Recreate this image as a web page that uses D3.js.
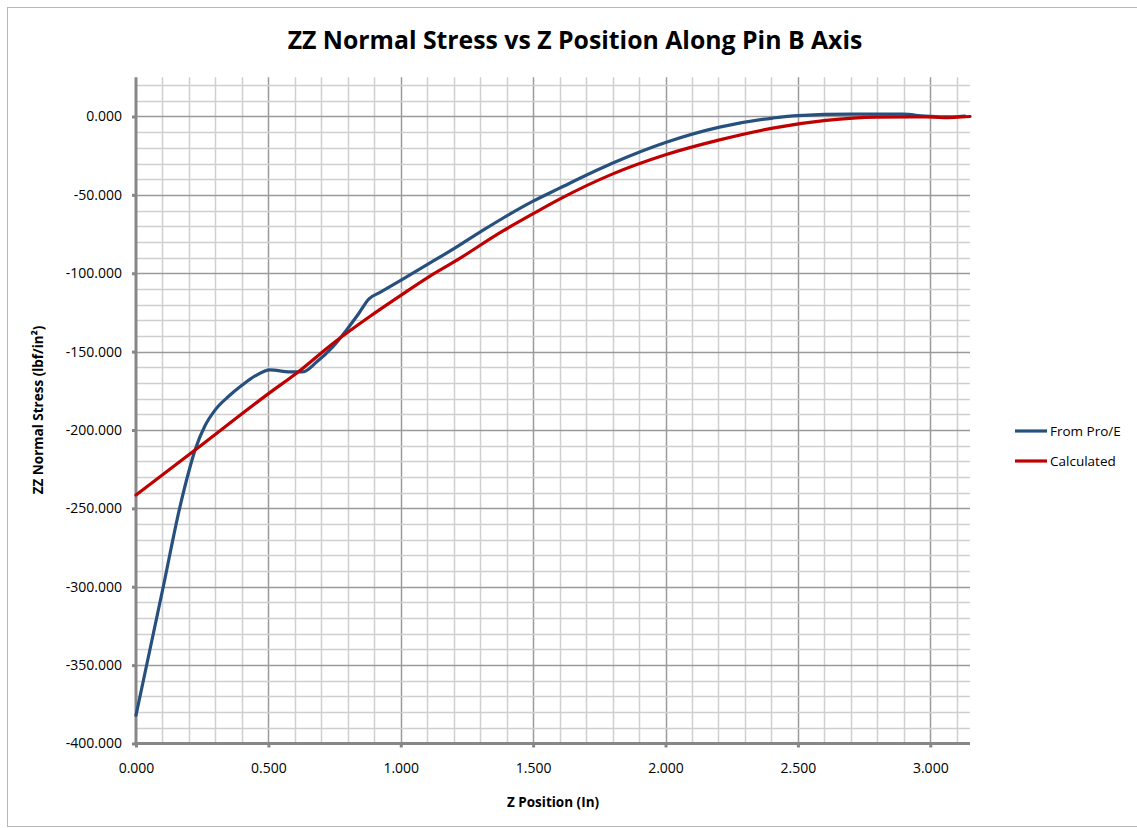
<!DOCTYPE html>
<html>
<head>
<meta charset="utf-8">
<script src="https://cdn.jsdelivr.net/npm/d3@7"></script>
<style>
  html, body { margin: 0; padding: 0; background: #fff; }
  svg { display: block; font-family: "Open Sans", Lato, sans-serif; }
</style>
</head>
<body>
<svg id="chart" width="1137" height="828"></svg>
<script>
// Z position (in) and ZZ normal stress (lbf/in²) for each series
const proEZ = [0, 0.103, 0.166, 0.201, 0.223, 0.26, 0.3, 0.35, 0.4, 0.45, 0.506, 0.581, 0.63, 0.683, 0.743, 0.796, 0.84, 0.88, 0.92, 1.003, 1.109, 1.204, 1.311, 1.5, 1.6, 1.801, 2.0, 2.204, 2.405, 2.5, 2.7, 2.896, 2.98, 3.05, 3.13];
const proEStress = [-382, -300, -249, -225.5, -212.8, -197.5, -187, -178.5, -171.5, -165.5, -161.6, -162.9, -162.9, -156.5, -147, -136, -126, -116.3, -112.4, -104.2, -93.6, -84, -72.5, -54, -45.7, -29.7, -16.6, -6.8, -1.0, 0.6, 1.5, 1.5, 0.2, -0.3, 0.3];
const calcZ = [0, 0.223, 0.503, 0.606, 0.745, 0.883, 1.003, 1.109, 1.204, 1.386, 1.5, 1.6, 1.801, 2.0, 2.204, 2.405, 2.606, 2.795, 2.98, 3.05, 3.15];
const calcStress = [-241.5, -212.8, -176.5, -163.8, -144.6, -127.6, -113.8, -102, -92.5, -73, -62, -52.7, -36.6, -24.4, -14.9, -7.4, -2.5, -0.4, -0.2, -0.8, 0];

const seriesNames = ["From Pro/E", "Calculated"];
const seriesColors = ["#27507f", "#c00000"];

const xTicks = [0, 0.5, 1.0, 1.5, 2.0, 2.5, 3.0];
const yTicks = [0, -50, -100, -150, -200, -250, -300, -350, -400];

const titleText = "ZZ Normal Stress vs Z Position Along Pin B Axis";
const xTitle = "Z Position (In)";
const yTitle = "ZZ Normal Stress (lbf/in²)";

const svg = d3.select("#chart");
const W = 1137, H = 828;
const plot = { left: 136, right: 970, top: 77.3, bottom: 743.5 };

const x = d3.scaleLinear().domain([0, 3.15]).range([plot.left, plot.right]);
const y = d3.scaleLinear().domain([-400, 25]).range([plot.bottom, plot.top]);

const fmt = d3.formatLocale({ decimal: ".", thousands: ",", grouping: [3], currency: ["$", ""], minus: "-" }).format(".3f");

// chart frame
svg.append("rect")
  .attr("x", 7.5).attr("y", 7.5)
  .attr("width", W + 10).attr("height", H - 9)
  .attr("fill", "#fff").attr("stroke", "#b8b8b8").attr("stroke-width", 1);

// gridlines: minor every 0.1 / 10, major every 0.5 / 50
const xMinor = d3.range(1, 32).map(i => i / 10);
const yMinor = d3.range(-39, 3).map(i => i * 10);
const grid = svg.append("g");
grid.selectAll("line.xg").data(xMinor).join("line")
  .attr("x1", d => Math.round(x(d)) + 0.5).attr("x2", d => Math.round(x(d)) + 0.5)
  .attr("y1", plot.top).attr("y2", plot.bottom)
  .attr("stroke", d => (Math.abs(d * 2 - Math.round(d * 2)) < 1e-6) ? "#9a9a9a" : "#cfcfcf")
  .attr("stroke-width", 1.5);
grid.selectAll("line.yg").data(yMinor).join("line")
  .attr("y1", d => Math.round(y(d)) + 0.5).attr("y2", d => Math.round(y(d)) + 0.5)
  .attr("x1", plot.left).attr("x2", plot.right)
  .attr("stroke", d => (d % 50 === 0) ? "#9a9a9a" : "#cfcfcf")
  .attr("stroke-width", 1.5);

// axes
const axisColor = "#878787";
const yAxis = svg.append("g")
  .attr("transform", `translate(${plot.left},0)`)
  .call(d3.axisLeft(y).tickValues(yTicks).tickFormat(fmt).tickSize(4).tickSizeOuter(0).tickPadding(10));
const xAxis = svg.append("g")
  .attr("transform", `translate(0,${plot.bottom})`)
  .call(d3.axisBottom(x).tickValues(xTicks).tickFormat(fmt).tickSize(4).tickSizeOuter(0).tickPadding(16));
[xAxis, yAxis].forEach(g => {
  g.select(".domain").attr("stroke", axisColor).attr("stroke-width", 3);
  g.selectAll(".tick line").attr("stroke", axisColor).attr("stroke-width", 3);
  g.selectAll(".tick text").attr("fill", "#000").style("font-size", "14px").style("font-family", "'Open Sans', sans-serif");
});
yAxis.select(".domain").attr("d", `M0,${plot.top}V${plot.bottom + 1.5}`);
xAxis.select(".domain").attr("d", `M${plot.left - 1.5},0H${plot.right}`);

// series
const line = d3.line().curve(d3.curveMonotoneX).x(d => x(d[0])).y(d => y(d[1]));
const seriesData = [
  d3.zip(proEZ, proEStress),
  d3.zip(calcZ, calcStress)
];
svg.append("g").selectAll("path").data(seriesData).join("path")
  .attr("d", line)
  .attr("fill", "none")
  .attr("stroke", (d, i) => seriesColors[i])
  .attr("stroke-width", 3.2)
  .attr("stroke-linejoin", "round")
  .attr("stroke-linecap", "round");

// title and axis titles
svg.append("text")
  .attr("x", 575).attr("y", 49)
  .attr("text-anchor", "middle")
  .style("font-size", "24.8px").style("font-weight", "bold")
  .text(titleText);
svg.append("text")
  .attr("x", 553).attr("y", 807)
  .attr("text-anchor", "middle")
  .style("font-size", "13.5px").style("font-weight", "bold")
  .text(xTitle);
svg.append("text")
  .attr("transform", "translate(43,410) rotate(-90)")
  .attr("text-anchor", "middle")
  .style("font-size", "13.5px").style("font-weight", "bold")
  .text(yTitle);

// legend
const legend = svg.append("g");
const legendY = [431, 461];
seriesNames.forEach((name, i) => {
  legend.append("line")
    .attr("x1", 1015).attr("x2", 1047)
    .attr("y1", legendY[i]).attr("y2", legendY[i])
    .attr("stroke", seriesColors[i]).attr("stroke-width", 3.2);
  legend.append("text")
    .attr("x", 1050).attr("y", legendY[i])
    .attr("dominant-baseline", "central")
    .style("font-size", "13.5px")
    .text(name);
});
</script>
</body>
</html>
